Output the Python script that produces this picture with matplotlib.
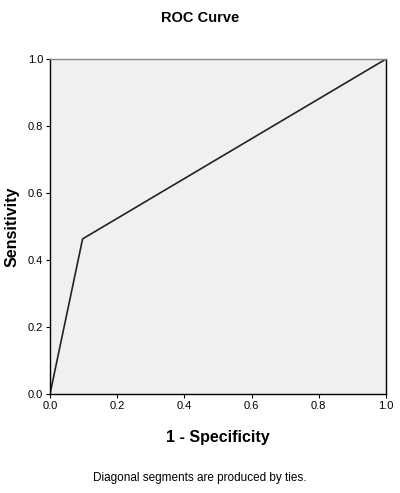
import matplotlib
matplotlib.use('Agg')
from matplotlib import pyplot as plt

plt.rcParams['font.family'] = ['Liberation Sans', 'DejaVu Sans']

fpr = [0.0, 0.097, 1.0]
tpr = [0.0, 0.463, 1.0]
ticks = [0.0, 0.2, 0.4, 0.6, 0.8, 1.0]
tick_labels = ['0.0', '0.2', '0.4', '0.6', '0.8', '1.0']

fig = plt.figure(figsize=(4.0, 4.93), dpi=100)
ax = fig.add_axes([0.125, 0.2008, 0.84, 0.6795])
ax.set_facecolor('#f0f0f0')

ax.plot(fpr, tpr, color='#222222', linewidth=1.2)

ax.set_xlim(0, 1)
ax.set_ylim(0, 1)
ax.set_xticks(ticks)
ax.set_yticks(ticks)
ax.set_xticklabels(tick_labels, fontsize=8)
ax.set_yticklabels(tick_labels, fontsize=8)
ax.tick_params(direction='out', length=3, width=0.8, pad=2)

for s in ['left', 'bottom', 'right']:
    ax.spines[s].set_color('black')
    ax.spines[s].set_linewidth(1.0)
ax.spines['top'].set_color('#888888')
ax.spines['top'].set_linewidth(1.0)

ax.set_xlabel('1 - Specificity', fontsize=11.5, fontweight='bold', labelpad=14)
ax.set_ylabel('Sensitivity', fontsize=11.5, fontweight='bold', labelpad=6)

fig.text(0.5, 0.963, 'ROC Curve', fontsize=10.5, fontweight='bold', ha='center', va='center')
fig.text(0.5, 0.03, 'Diagonal segments are produced by ties.', fontsize=8.5, ha='center', va='center')

fig.savefig('out.png', dpi=100)
